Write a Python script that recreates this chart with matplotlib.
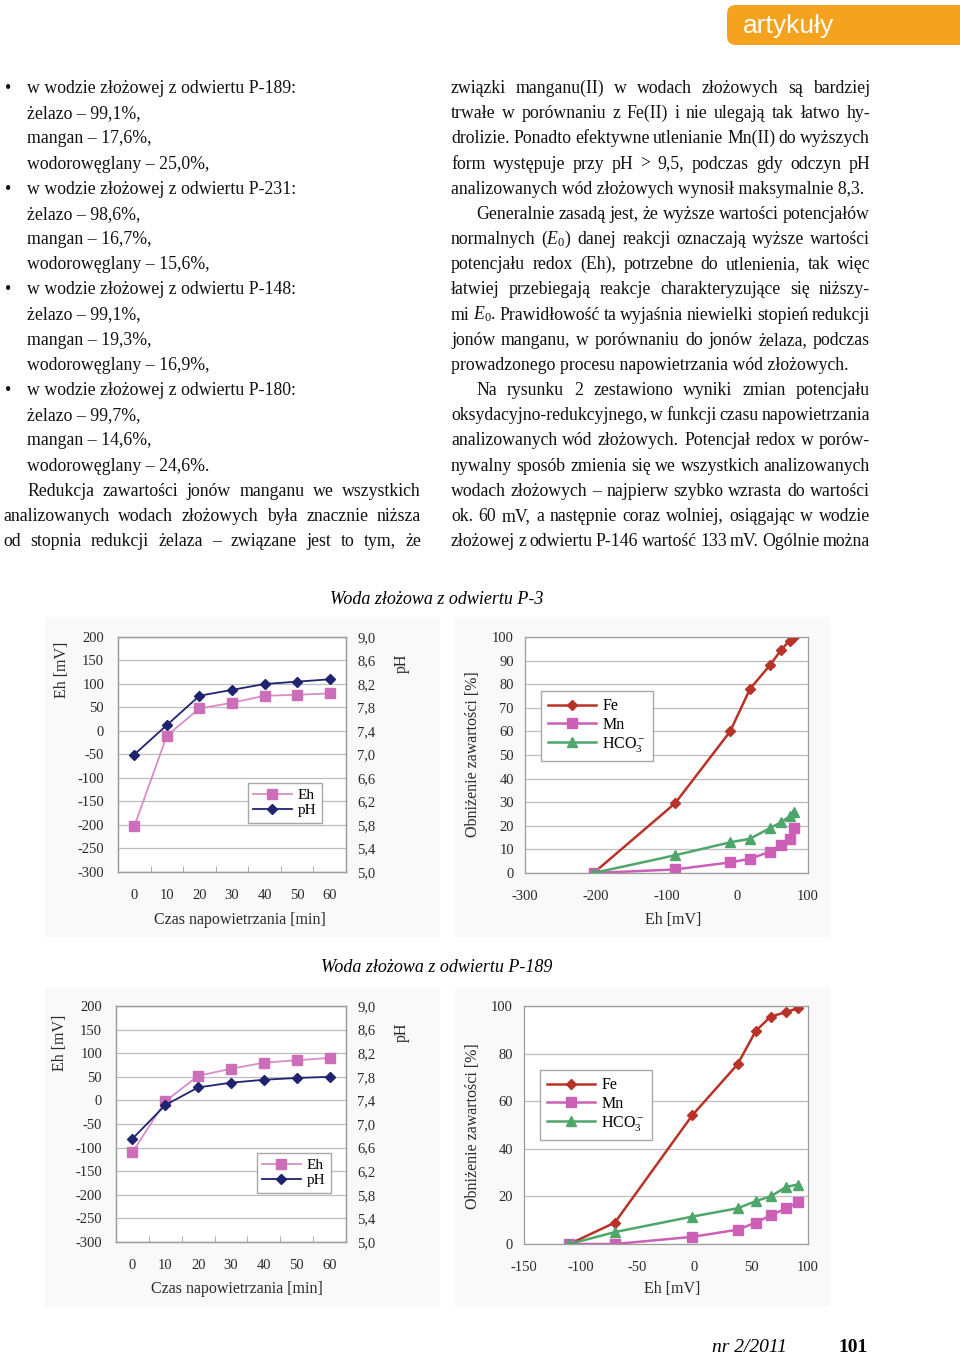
import numpy as np
import matplotlib
matplotlib.use("Agg")
import matplotlib.pyplot as plt
from matplotlib.patches import FancyBboxPatch, Rectangle
from matplotlib.ticker import FuncFormatter

plt.rcParams['font.family'] = ['Liberation Serif', 'DejaVu Serif']
plt.rcParams['mathtext.fontset'] = 'custom'
plt.rcParams['mathtext.rm'] = 'Liberation Serif'
plt.rcParams['mathtext.it'] = 'Liberation Serif:italic'
plt.rcParams['axes.unicode_minus'] = False

W, H = 960, 1356

# --- data ---
czas = [0, 10, 20, 30, 40, 50, 60]

p3_eh = [-203, -10, 48, 60, 75, 77, 80]
p3_ph = [7.0, 7.5, 8.0, 8.1, 8.2, 8.24, 8.28]
p3_x = [-203, -88, -10, 18, 46, 62, 74, 80]
p3_fe = [0, 29.5, 60, 78, 88, 94.5, 98.5, 100]
p3_mn = [0, 1.5, 4.5, 6, 9, 12, 14.5, 19]
p3_hco3 = [0, 7.5, 13, 14.5, 19, 21.5, 24, 26]

p189_eh = [-110, -2, 52, 67, 80, 85, 90]
p189_ph = [6.75, 7.32, 7.62, 7.7, 7.75, 7.78, 7.8]
p189_x = [-110, -70, -2, 38, 54, 67, 81, 91]
p189_fe = [0, 9, 54, 75.5, 89.5, 95.5, 97.5, 99]
p189_mn = [0, 0, 3, 6, 9, 12, 15, 17.5]
p189_hco3 = [0, 5, 11.5, 15, 18, 20, 24, 25]

# --- page text ---
left_col = [
    "w wodzie złożowej z odwiertu P-189:",
    "żelazo – 99,1%,",
    "mangan – 17,6%,",
    "wodorowęglany – 25,0%,",
    "w wodzie złożowej z odwiertu P-231:",
    "żelazo – 98,6%,",
    "mangan – 16,7%,",
    "wodorowęglany – 15,6%,",
    "w wodzie złożowej z odwiertu P-148:",
    "żelazo – 99,1%,",
    "mangan – 19,3%,",
    "wodorowęglany – 16,9%,",
    "w wodzie złożowej z odwiertu P-180:",
    "żelazo – 99,7%,",
    "mangan – 14,6%,",
    "wodorowęglany – 24,6%.",
    "Redukcja zawartości jonów manganu we wszystkich",
    "analizowanych wodach złożowych była znacznie niższa",
    "od stopnia redukcji żelaza – związane jest to tym, że",
]
right_col = [
    "związki manganu(II) w wodach złożowych są bardziej",
    "trwałe w porównaniu z Fe(II) i nie ulegają tak łatwo hy-",
    "drolizie. Ponadto efektywne utlenianie Mn(II) do wyższych",
    "form występuje przy pH > 9,5, podczas gdy odczyn pH",
    "analizowanych wód złożowych wynosił maksymalnie 8,3.",
    "Generalnie zasadą jest, że wyższe wartości potencjałów",
    "normalnych ($E_0$) danej reakcji oznaczają wyższe wartości",
    "potencjału redox (Eh), potrzebne do utlenienia, tak więc",
    "łatwiej przebiegają reakcje charakteryzujące się niższy-",
    "mi $E_0$. Prawidłowość ta wyjaśnia niewielki stopień redukcji",
    "jonów manganu, w porównaniu do jonów żelaza, podczas",
    "prowadzonego procesu napowietrzania wód złożowych.",
    "Na rysunku 2 zestawiono wyniki zmian potencjału",
    "oksydacyjno-redukcyjnego, w funkcji czasu napowietrzania",
    "analizowanych wód złożowych. Potencjał redox w porów-",
    "nywalny sposób zmienia się we wszystkich analizowanych",
    "wodach złożowych – najpierw szybko wzrasta do wartości",
    "ok. 60 mV, a następnie coraz wolniej, osiągając w wodzie",
    "złożowej z odwiertu P-146 wartość 133 mV. Ogólnie można",
]

FE = '#B83228'
MN = '#CC5FB6'
HC = '#4FA66A'
EH_C = '#CC6FB8'
EH_L = '#D88DC8'
PH_C = '#1F2470'
GRID = '#BDBDBD'
EDGE = '#9C9C9C'
TXT = '#2A2A2A'
INK = '#111111'

fig = plt.figure(figsize=(W / 100, H / 100), dpi=100)
page = fig.add_axes([0, 0, 1, 1])
page.set_xlim(0, W)
page.set_ylim(H, 0)
page.axis('off')
renderer = fig.canvas.get_renderer()


def text_w(s, size):
    t = page.text(0, 0, s, fontsize=size)
    w = t.get_window_extent(renderer).width
    t.remove()
    return w


def put_line(s, x0, x1, y, size, justify):
    if not justify:
        page.text(x0, y, s, fontsize=size, va='baseline', color=INK)
        return
    words = s.split()
    ws = [text_w(w, size) for w in words]
    gap = (x1 - x0 - sum(ws)) / (len(words) - 1)
    x = x0
    for w, wd in zip(words, ws):
        page.text(x, y, w, fontsize=size, va='baseline', color=INK)
        x += wd + gap


# line layout: (text, x0, x1, justify)
left_lines = []
for i, s in enumerate(left_col):
    if i < 16:
        left_lines.append((s, 27, 421, False))
    elif i == 16:
        left_lines.append((s, 27, 421, True))
    else:
        left_lines.append((s, 3, 421, True))
right_lines = []
for i, s in enumerate(right_col):
    x0 = 476 if i in (5, 12) else 451
    right_lines.append((s, x0, 870, i not in (4, 11)))

# font size: match the reference line width, but let every justified line fit
fs = 12 * 279 / text_w(left_col[0], 12)
for s, x0, x1, j in left_lines + right_lines:
    if j:
        words = s.split()
        sw = sum(text_w(w, 12) for w in words)
        fs = min(fs, 12 * (x1 - x0 - 3.2 * (len(words) - 1)) / sw)

base, step = 93, 25.17
for i, (s, x0, x1, j) in enumerate(left_lines):
    y = base + step * i
    if i in (0, 4, 8, 12):
        page.text(5, y, "•", fontsize=fs, va='baseline', color=INK)
    put_line(s, x0, x1, y, fs, j)
for i, (s, x0, x1, j) in enumerate(right_lines):
    put_line(s, x0, x1, base + step * i, fs, j)

# header tab
page.add_patch(FancyBboxPatch((727, 5), 260, 40,
                              boxstyle="round,pad=0,rounding_size=9",
                              fc='#F5A21E', ec='none'))
page.text(743, 26, "artykuły", color='white', fontsize=19, va='center',
          family=['Liberation Sans Narrow', 'Liberation Sans'])

# footer
page.text(712, 1348, "nr 2/2011", style='italic', fontsize=14, va='center')
page.text(838, 1348, "101", weight='bold', fontsize=14, va='center')

# chart titles
page.text(437, 600, "Woda złożowa z odwiertu P-3", style='italic',
          fontsize=13, ha='center', va='center')
page.text(437, 968, "Woda złożowa z odwiertu P-189", style='italic',
          fontsize=13, ha='center', va='center')

# light backgrounds of the chart images
for (l, t, r, b) in [(45, 617, 440, 937), (455, 617, 830, 937),
                     (45, 987, 440, 1307), (455, 987, 830, 1307)]:
    page.add_patch(Rectangle((l, t), r - l, b - t, fc='#F9F9F9', ec='none'))


def add_ax(l, t, r, b):
    return fig.add_axes([l / W, 1 - b / H, (r - l) / W, (b - t) / H])


def style(ax):
    for s in ax.spines.values():
        s.set_color(EDGE)
        s.set_linewidth(0.9)
    ax.tick_params(labelsize=10.5, labelcolor=TXT)


def comma(v, p):
    return f"{v:.1f}".replace('.', ',')


def time_chart(box, eh, ph, leg_xy, eh_lab_y, ph_lab_y, xlab_xy):
    ax = add_ax(*box)
    style(ax)
    ax.set_xlim(-5, 65)
    ax.set_ylim(-300, 200)
    ax.set_yticks(range(-300, 201, 50))
    ax.set_xticks(czas)
    ax.set_xticks(np.arange(5, 60, 10), minor=True)
    ax.tick_params(axis='x', which='major', length=0, pad=12)
    ax.tick_params(axis='x', which='minor', length=4, direction='in', color=EDGE)
    ax.tick_params(axis='y', length=0, pad=10)
    ax.grid(axis='y', color=GRID, lw=0.9)
    ax.set_axisbelow(True)
    l1, = ax.plot(czas, eh, color=EH_L, lw=1.3, marker='s', ms=6.5,
                  mfc=EH_C, mec=EH_C, label='Eh')
    ax2 = ax.twinx()
    style(ax2)
    ax2.set_ylim(5.0, 9.0)
    ax2.set_yticks(np.arange(5.0, 9.01, 0.4))
    ax2.yaxis.set_major_formatter(FuncFormatter(comma))
    ax2.tick_params(axis='y', length=0, pad=8)
    l2, = ax2.plot(czas, ph, color=PH_C, lw=1.3, marker='D', ms=5, label='pH')
    ax2.legend([l1, l2], ['Eh', 'pH'], loc='upper left',
               bbox_to_anchor=(leg_xy[0] / W, 1 - leg_xy[1] / H),
               bbox_transform=fig.transFigure, fancybox=False,
               edgecolor='#A8A8A8', framealpha=1, fontsize=11,
               handlelength=2.5, handletextpad=0.4, labelspacing=0.1,
               borderpad=0.35, borderaxespad=0)
    page.text(box[0] - 56, eh_lab_y, "Eh [mV]", rotation=90, fontsize=11.5,
              ha='center', va='center', color=TXT)
    page.text(box[2] + 56, ph_lab_y, "pH", rotation=90, fontsize=11.5,
              ha='center', va='center', color=TXT)
    page.text(xlab_xy[0], xlab_xy[1], "Czas napowietrzania [min]", fontsize=11.5,
              ha='center', va='center', color=TXT)


def eh_chart(box, x, fe, mn, hco3, xlim, xstep, ystep, leg_xy, ylab_y, xlab_xy):
    ax = add_ax(*box)
    style(ax)
    ax.set_xlim(*xlim)
    ax.set_ylim(0, 100)
    ax.set_xticks(range(xlim[0], xlim[1] + 1, xstep))
    ax.set_yticks(range(0, 101, ystep))
    ax.tick_params(axis='x', length=0, pad=12)
    ax.tick_params(axis='y', length=0, pad=8)
    ax.grid(axis='y', color=GRID, lw=0.9)
    ax.set_axisbelow(True)
    ax.plot(x, fe, color=FE, lw=1.8, marker='D', ms=5, label='Fe')
    ax.plot(x, mn, color=MN, lw=1.8, marker='s', ms=6.5, label='Mn')
    ax.plot(x, hco3, color=HC, lw=1.8, marker='^', ms=7, label='HCO$_3^-$')
    ax.legend(loc='upper left',
              bbox_to_anchor=(leg_xy[0] / W, 1 - leg_xy[1] / H),
              bbox_transform=fig.transFigure, fancybox=False,
              edgecolor='#A8A8A8', framealpha=1, fontsize=11.5,
              handlelength=3.0, handletextpad=0.4, labelspacing=0.15,
              borderpad=0.45, borderaxespad=0)
    page.text(473, ylab_y, "Obniżenie zawartości [%]", rotation=90, fontsize=11.5,
              ha='center', va='center', color=TXT)
    page.text(xlab_xy[0], xlab_xy[1], "Eh [mV]", fontsize=11.5,
              ha='center', va='center', color=TXT)


time_chart((118, 637, 346, 872), p3_eh, p3_ph, (248, 783), 670, 663, (240, 920))
eh_chart((525, 637, 808, 873), p3_x, p3_fe, p3_mn, p3_hco3, (-300, 100), 100, 10,
         (541, 691), 754, (673, 920))
time_chart((116, 1006, 346, 1242), p189_eh, p189_ph, (257, 1153), 1043, 1032, (237, 1289))
eh_chart((524, 1006, 808, 1244), p189_x, p189_fe, p189_mn, p189_hco3, (-150, 100), 50, 20,
         (540, 1070), 1126, (672, 1289))

fig.savefig("out.png", dpi=100, facecolor='white')
